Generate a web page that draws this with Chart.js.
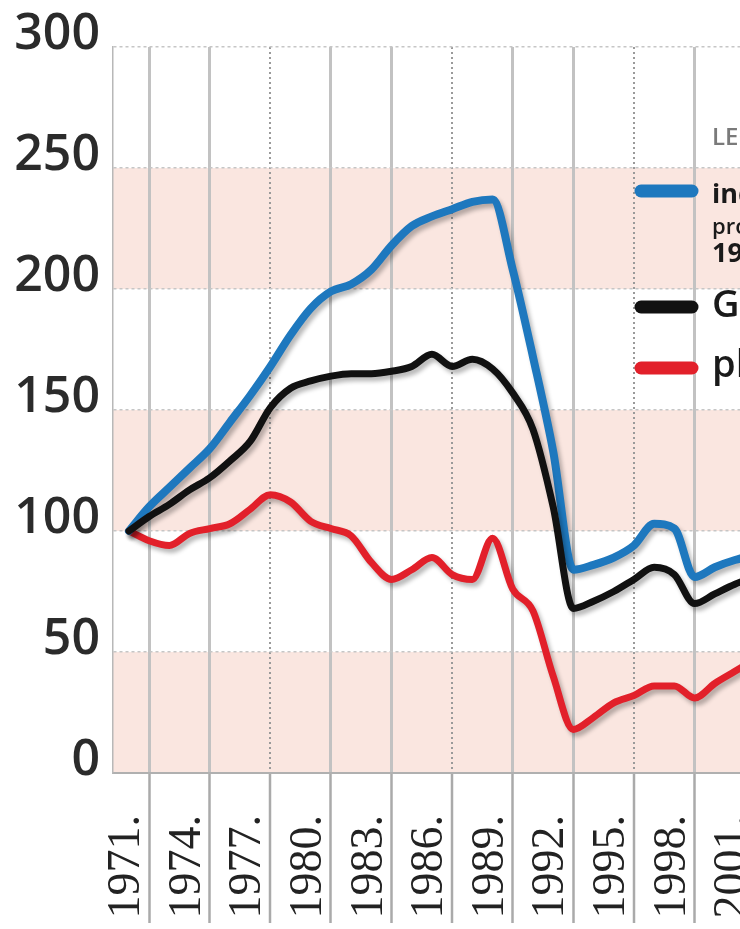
<!DOCTYPE html>
<html>
<head>
<meta charset="utf-8">
<script src="https://cdn.jsdelivr.net/npm/chart.js@4.4.0/dist/chart.umd.min.js"></script>
<style>
  html, body { margin: 0; padding: 0; width: 740px; height: 929px; overflow: hidden; background: #fff; }
  /* the original is a crop of a wider chart, so the canvas runs past the right edge */
  #wrap { position: absolute; left: 0; top: 0; width: 780px; height: 929px; }
</style>
</head>
<body>
<div id="wrap"><canvas id="chart1"></canvas></div>
<script>
const years = [1971, 1972, 1973, 1974, 1975, 1976, 1977, 1978, 1979, 1980, 1981, 1982, 1983, 1984, 1985, 1986,
               1987, 1988, 1989, 1990, 1991, 1992, 1993, 1994, 1995, 1996, 1997, 1998, 1999, 2000, 2001, 2002];
const industry = [100, 110, 118, 126, 134, 145, 156, 168, 181, 192, 199, 202, 208, 218, 226, 230,
                  233, 236, 237, 208, 172, 133, 84, 86, 89, 94, 103, 101, 81, 85, 88, 90];
const gdp = [100, 106, 111, 117, 122, 129, 137, 151, 159, 162, 164, 165, 165, 166, 168, 173,
             168, 171, 167, 157, 142, 110, 68, 71, 75, 80, 85, 82, 70, 74, 78, 81];
const wages = [100, 96, 94, 99, 101, 103, 109, 115, 112, 104, 101, 98, 87, 80, 84, 89,
               82, 80, 97, 76, 67, 40, 18, 23, 29, 32, 36, 36, 31, 37, 42, 47];

const yTicks = [0, 50, 100, 150, 200, 250, 300];
const xLabels = ['1971.', '1974.', '1977.', '1980.', '1983.', '1986.', '1989.', '1992.', '1995.', '1998.', '2001.'];
const gridYears = [1972, 1975, 1978, 1981, 1984, 1987, 1990, 1993, 1996, 1999, 2002];
const dottedYears = [1978, 1987, 1996];
const bands = [[0, 50], [100, 150], [200, 250]];

const legendTitle = 'LEGENDA';
const legendIndustry = ['industrijska', 'proizvodnja', '1971=100'];
const legendGdp = 'GDP';
const legendWages = 'plate';

const blue = '#1e78be';
const black = '#111111';
const red = '#e2202a';

function pts(arr) {
  return years.map((yr, i) => ({x: yr, y: arr[i]}));
}

// pink bands behind the grid
const bandPlugin = {
  id: 'bands',
  beforeDraw(chart) {
    const {ctx, chartArea: a, scales: {y}} = chart;
    ctx.save();
    ctx.fillStyle = '#fae6e0';
    bands.forEach(function (b) {
      const top = y.getPixelForValue(b[1]);
      const bot = y.getPixelForValue(b[0]);
      ctx.fillRect(a.left, top, a.right - a.left, bot - top);
    });
    ctx.restore();
  }
};

// soft grey shadow under each line
const shadowPlugin = {
  id: 'shadow',
  beforeDatasetDraw(chart) {
    const ctx = chart.ctx;
    ctx.save();
    ctx.shadowColor = 'rgba(0,0,0,0.28)';
    ctx.shadowOffsetX = 3;
    ctx.shadowOffsetY = 4;
    ctx.shadowBlur = 4;
  },
  afterDatasetDraw(chart) {
    chart.ctx.restore();
  }
};

// legend on the right, cut off by the page edge like the original
const legendPlugin = {
  id: 'sideLegend',
  afterDraw(chart) {
    const ctx = chart.ctx;
    ctx.save();
    ctx.textBaseline = 'middle';
    ctx.fillStyle = '#7a7a7a';
    ctx.font = '600 24px "Open Sans"';
    ctx.fillText(legendTitle, 712, 138);

    ctx.lineCap = 'round';
    ctx.lineWidth = 13;
    var rows = [[blue, 191], [black, 307], [red, 368]];
    rows.forEach(function (r) {
      ctx.strokeStyle = r[0];
      ctx.beginPath();
      ctx.moveTo(641, r[1]);
      ctx.lineTo(692, r[1]);
      ctx.stroke();
    });

    ctx.fillStyle = '#1a1a1a';
    ctx.font = 'bold 27px "Open Sans"';
    ctx.fillText(legendIndustry[0], 712, 195);
    ctx.font = '600 22px "Open Sans"';
    ctx.fillText(legendIndustry[1], 712, 228);
    ctx.font = 'bold 27px "Open Sans"';
    ctx.fillText(legendIndustry[2], 712, 254);
    ctx.font = '600 38px "Open Sans"';
    ctx.fillText(legendGdp, 712, 306);
    ctx.fillText(legendWages, 712, 366);
    ctx.restore();
  }
};

const ctx1 = document.getElementById('chart1').getContext('2d');
const myChart = new Chart(ctx1, {
  type: 'line',
  data: {
    datasets: [
      { label: legendGdp, data: pts(gdp), borderColor: black, borderWidth: 7 },
      { label: legendIndustry.join(' '), data: pts(industry), borderColor: blue, borderWidth: 8 },
      { label: legendWages, data: pts(wages), borderColor: red, borderWidth: 7 },
    ],
  },
  options: {
    responsive: true,
    maintainAspectRatio: false,
    animation: false,
    layout: { padding: { top: 47, left: 0, right: 0, bottom: 0 } },
    elements: {
      point: { radius: 0 },
      line: { cubicInterpolationMode: 'monotone', borderCapStyle: 'round', borderJoinStyle: 'round', fill: false },
    },
    plugins: {
      legend: { display: false },
      tooltip: { enabled: false },
    },
    scales: {
      x: {
        type: 'linear',
        position: 'bottom',
        min: 1970.21,
        max: 2003.23,
        afterBuildTicks: function (s) { s.ticks = gridYears.map(v => ({value: v})); },
        afterFit: function (s) { s.height = 156; },
        ticks: {
          autoSkip: false,
          minRotation: 90,
          maxRotation: 90,
          padding: -108,
          labelOffset: -22,
          color: '#222',
          font: { family: 'Liberation Serif', size: 46 },
          callback: function (v, i) { return xLabels[i]; },
        },
        grid: {
          color: function (c) { return c.tick && dottedYears.includes(c.tick.value) ? '#9a9a9a' : '#c2c2c2'; },
          lineWidth: function (c) { return c.tick && dottedYears.includes(c.tick.value) ? 2 : 3; },
          tickLength: 150,
          tickColor: '#aaaaaa',
          tickWidth: 2.5,
          tickBorderDash: [],
        },
        border: {
          display: true,
          color: '#b0b0b0',
          width: 2,
          dash: function (c) { return c.tick && dottedYears.includes(c.tick.value) ? [2, 3] : []; },
        },
      },
      y: {
        min: 0,
        max: 300,
        afterBuildTicks: function (s) { s.ticks = yTicks.map(v => ({value: v})); },
        afterFit: function (s) { s.width = 113; },
        ticks: {
          padding: 13,
          labelOffset: -12,
          color: '#2b2b2b',
          font: { family: 'Open Sans', size: 50, weight: '600' },
          callback: function (v) { return String(v); },
        },
        grid: { drawTicks: false, color: '#c6c6c6', lineWidth: 1.5 },
        border: { display: true, color: '#b8b8b8', width: 1.5, dash: [3, 3] },
      },
    },
  },
  plugins: [bandPlugin, shadowPlugin, legendPlugin],
});
</script>
</body>
</html>
